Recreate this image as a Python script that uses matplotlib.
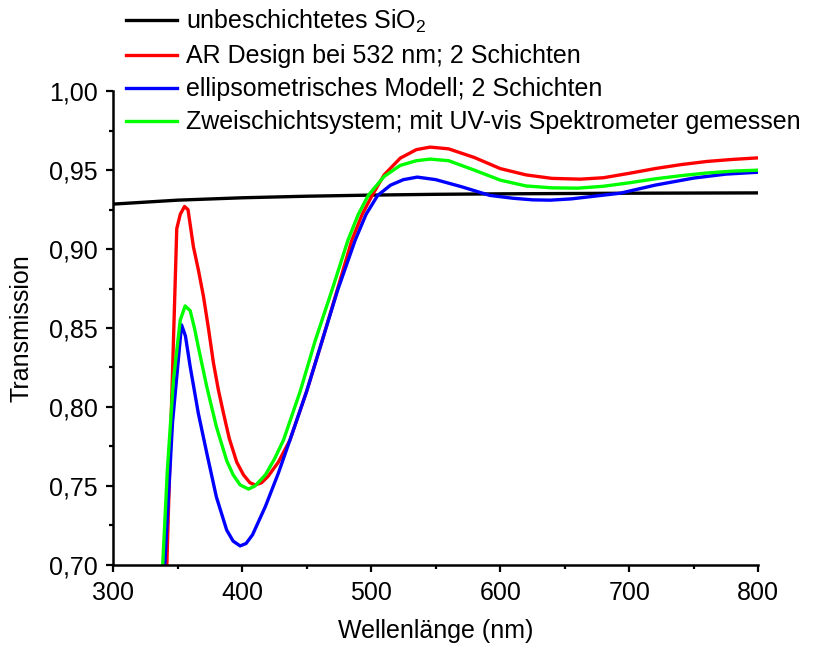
import matplotlib
matplotlib.use("Agg")
import matplotlib.pyplot as plt
from matplotlib.ticker import MultipleLocator, FuncFormatter

plt.rcParams['font.family'] = ['Liberation Sans', 'DejaVu Sans']
plt.rcParams['mathtext.fontset'] = 'custom'
plt.rcParams['mathtext.rm'] = 'Liberation Sans'
plt.rcParams['mathtext.default'] = 'regular'

# unbeschichtetes SiO2
wl_sio2 = [300, 350, 400, 450, 500, 550, 600, 650, 700, 750, 800]
t_sio2 = [0.9285, 0.9310, 0.9325, 0.9335, 0.9342, 0.9347, 0.9350, 0.9352, 0.9354, 0.9355, 0.9356]

# AR Design bei 532 nm
wl_design = [338, 341.6, 349.3, 352, 355.3, 358, 362.2, 366, 370, 374, 377.7, 381.5, 385.5,
             390, 395.8, 401, 406, 410, 415, 420, 428, 437, 450, 462, 474, 485, 493, 500.7,
             510, 522.5, 535, 545.7, 560, 580, 600, 620, 640, 662, 680, 700, 720, 740,
             760, 780, 800]
t_design = [0.66, 0.70, 0.913, 0.922, 0.927, 0.925, 0.9015, 0.887, 0.870, 0.849, 0.828, 0.811, 0.796,
            0.780, 0.765, 0.757, 0.752, 0.7506, 0.752, 0.756, 0.765, 0.779, 0.810, 0.842, 0.875, 0.9057, 0.922, 0.934,
            0.947, 0.9576, 0.9630, 0.9646, 0.9635, 0.9580, 0.9510, 0.9470, 0.9448, 0.9443, 0.9452, 0.9480,
            0.9510, 0.9535, 0.9555, 0.9568, 0.9578]

# ellipsometrisches Modell
wl_model = [337, 340, 346, 353, 356, 359.7, 366, 372.5, 380, 388, 393, 398.4, 403, 408, 418,
            428, 437, 450, 462, 474, 487.6, 496, 505, 515, 525, 535.7, 550, 570, 592, 610,
            625, 638.8, 655, 675, 693, 720, 750, 775, 800]
t_model = [0.66, 0.70, 0.79, 0.852, 0.845, 0.8255, 0.796, 0.771, 0.743, 0.722, 0.715, 0.712, 0.7135,
           0.719, 0.737, 0.758, 0.779, 0.810, 0.842, 0.874, 0.9057, 0.922, 0.934, 0.9405, 0.944,
           0.9456, 0.9440, 0.9395, 0.9340, 0.9322, 0.9312, 0.9310, 0.9318, 0.9337, 0.9354, 0.9405,
           0.9450, 0.9475, 0.9487]

# Zweischichtsystem, gemessen
wl_meas = [336, 338.4, 342, 346.7, 352, 355.8, 359.7, 363, 366, 372.5, 380, 388, 393,
           398.4, 404.9, 410, 418, 425, 432, 445, 456.6, 470, 482, 490, 497.7, 510, 522.5, 535,
           545.7, 560, 580, 600, 620, 640, 660, 680, 700, 720, 740, 760, 780, 800]
t_meas = [0.66, 0.70, 0.76, 0.817, 0.855, 0.864, 0.861, 0.850, 0.838, 0.813, 0.7875, 0.766, 0.757,
          0.7506, 0.748, 0.750, 0.757, 0.767, 0.779, 0.810, 0.842, 0.875, 0.9057, 0.922, 0.934, 0.946,
          0.953, 0.9560, 0.9570, 0.9560, 0.9500, 0.9437, 0.9400, 0.9388, 0.9386, 0.9398, 0.9420,
          0.9445, 0.9465, 0.9482, 0.9494, 0.9500]

labels = ['unbeschichtetes SiO$_2$', 'AR Design bei 532 nm; 2 Schichten',
          'ellipsometrisches Modell; 2 Schichten',
          'Zweischichtsystem; mit UV-vis Spektrometer gemessen']

fig = plt.figure(figsize=(8.26, 6.47), dpi=100)
ax = fig.add_axes([0.137, 0.127, 0.781, 0.732])

lw = 2.4
ax.plot(wl_sio2, t_sio2, color='black', lw=lw, label=labels[0])
ax.plot(wl_design, t_design, color='#ff0000', lw=lw, label=labels[1])
ax.plot(wl_model, t_model, color='#0000ff', lw=lw, label=labels[2])
ax.plot(wl_meas, t_meas, color='#00ff00', lw=lw, label=labels[3])

ax.set_xlim(300, 800)
ax.set_ylim(0.70, 1.00)
ax.xaxis.set_major_locator(MultipleLocator(100))
ax.xaxis.set_minor_locator(MultipleLocator(50))
ax.yaxis.set_major_locator(MultipleLocator(0.05))
ax.yaxis.set_minor_locator(MultipleLocator(0.025))
ax.yaxis.set_major_formatter(FuncFormatter(lambda v, p: f'{v:.2f}'.replace('.', ',')))

for s in ['top', 'right']:
    ax.spines[s].set_visible(False)
for s in ['left', 'bottom']:
    ax.spines[s].set_linewidth(1.8)
ax.tick_params(which='major', direction='out', length=5, width=1.6, labelsize=18)
ax.tick_params(axis='x', which='major', pad=7)
ax.tick_params(axis='y', which='major', pad=6)
ax.tick_params(which='minor', direction='out', length=3, width=1.6)

ax.set_xlabel('Wellenlänge (nm)', fontsize=18, labelpad=10)
ax.set_ylabel('Transmission', fontsize=18, labelpad=11)

fig.legend(loc='upper left', bbox_to_anchor=(0.140, 1.003), frameon=False, fontsize=18,
           handlelength=2.05, handletextpad=0.36, labelspacing=0.36, borderaxespad=0)

fig.savefig('out.png', dpi=100)
